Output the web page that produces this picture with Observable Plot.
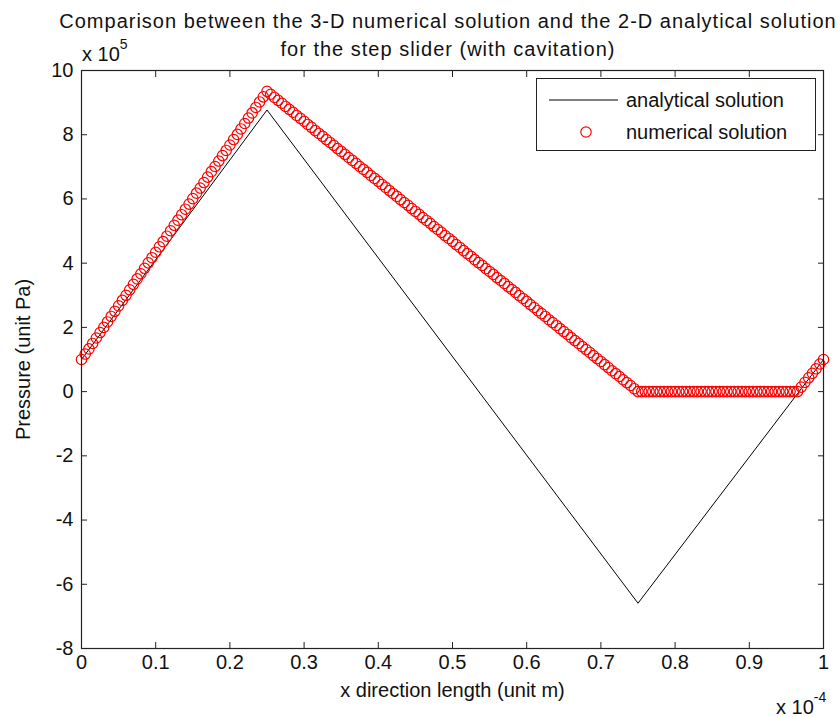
<!DOCTYPE html>
<html>
<head>
<meta charset="utf-8">
<script src="https://cdn.jsdelivr.net/npm/d3@7"></script>
<script src="https://cdn.jsdelivr.net/npm/@observablehq/plot@0.6"></script>
<style>
  body { margin: 0; background: #fff; }
  #wrap { position: relative; width: 840px; height: 717px; font-family: "Liberation Sans", Arial, sans-serif; color: #111; }
  .ann { position: absolute; white-space: nowrap; font-size: 20px; line-height: 1; }
  #title { position: absolute; left: 0; width: 896px; top: 7px; text-align: center; font-size: 20px; line-height: 28px; letter-spacing: 1px; }
  sup { font-size: 14px; position: relative; top: -4px; }
  #legend { position: absolute; left: 536px; top: 78px; width: 278px; height: 71px; border: 1px solid #222; background: #fff; }
</style>
</head>
<body>
<div id="wrap">
  <div id="chart"></div>
  <div id="title">Comparison between the 3-D numerical solution and the 2-D analytical solution<br>for the step slider (with cavitation)</div>
  <div class="ann" style="left:82px; top:41px;">x 10<sup>5</sup></div>
  <div class="ann" style="left:776px; top:694px;">x 10<sup>-4</sup></div>
  <div id="legend">
    <svg width="278" height="71" style="position:absolute;left:0;top:0;font-family:'Liberation Sans', Arial, sans-serif;font-size:20px;">
      <line x1="12" x2="81" y1="21" y2="21" stroke="#000" stroke-width="1"></line>
      <circle cx="49" cy="53" r="5.2" fill="none" stroke="#ff0000" stroke-width="1.2"></circle>
      <text x="89" y="28" fill="#111">analytical solution</text>
      <text x="89" y="60" fill="#111">numerical solution</text>
    </svg>
  </div>
</div>
<script>
// Tick labels (x in units of 1e-4 m, pressure in units of 1e5 Pa)
const xTicks = [0, 0.1, 0.2, 0.3, 0.4, 0.5, 0.6, 0.7, 0.8, 0.9, 1];
const yTicks = [-8, -6, -4, -2, 0, 2, 4, 6, 8, 10];

// Analytical solution (black line)
const anaX = [0, 0.25, 0.75, 1];
const anaY = [1.0, 8.77, -6.59, 1.0];

// Numerical solution (red circles)
const numX = [
  0,0.005,0.01,0.015,0.02,0.025,0.03,0.035,0.04,0.045,0.05,0.055,0.06,0.065,0.07,0.075,0.08,0.085,0.09,0.095,
  0.1,0.105,0.11,0.115,0.12,0.125,0.13,0.135,0.14,0.145,0.15,0.155,0.16,0.165,0.17,0.175,0.18,0.185,0.19,0.195,
  0.2,0.205,0.21,0.215,0.22,0.225,0.23,0.235,0.24,0.245,0.25,0.255,0.26,0.265,0.27,0.275,0.28,0.285,0.29,0.295,
  0.3,0.305,0.31,0.315,0.32,0.325,0.33,0.335,0.34,0.345,0.35,0.355,0.36,0.365,0.37,0.375,0.38,0.385,0.39,0.395,
  0.4,0.405,0.41,0.415,0.42,0.425,0.43,0.435,0.44,0.445,0.45,0.455,0.46,0.465,0.47,0.475,0.48,0.485,0.49,0.495,
  0.5,0.505,0.51,0.515,0.52,0.525,0.53,0.535,0.54,0.545,0.55,0.555,0.56,0.565,0.57,0.575,0.58,0.585,0.59,0.595,
  0.6,0.605,0.61,0.615,0.62,0.625,0.63,0.635,0.64,0.645,0.65,0.655,0.66,0.665,0.67,0.675,0.68,0.685,0.69,0.695,
  0.7,0.705,0.71,0.715,0.72,0.725,0.73,0.735,0.74,0.745,0.75,0.755,0.76,0.765,0.77,0.775,0.78,0.785,0.79,0.795,
  0.8,0.805,0.81,0.815,0.82,0.825,0.83,0.835,0.84,0.845,0.85,0.855,0.86,0.865,0.87,0.875,0.88,0.885,0.89,0.895,
  0.9,0.905,0.91,0.915,0.92,0.925,0.93,0.935,0.94,0.945,0.95,0.955,0.96,0.965,0.97,0.975,0.98,0.985,0.99,0.995,
  1
];
const numY = [
  1.00,1.17,1.33,1.50,1.67,1.84,2.00,2.17,2.34,2.50,2.67,2.84,3.00,3.17,3.34,3.51,3.67,3.84,4.01,4.17,
  4.34,4.51,4.67,4.84,5.01,5.18,5.34,5.51,5.68,5.84,6.01,6.18,6.34,6.51,6.68,6.85,7.01,7.18,7.35,7.51,
  7.68,7.85,8.01,8.18,8.35,8.52,8.68,8.85,9.02,9.18,9.35,9.26,9.16,9.07,8.98,8.88,8.79,8.70,8.60,8.51,
  8.42,8.32,8.23,8.13,8.04,7.95,7.85,7.76,7.67,7.57,7.48,7.39,7.29,7.20,7.11,7.01,6.92,6.83,6.73,6.64,
  6.55,6.45,6.36,6.26,6.17,6.08,5.98,5.89,5.80,5.70,5.61,5.52,5.42,5.33,5.24,5.14,5.05,4.96,4.86,4.77,
  4.68,4.58,4.49,4.39,4.30,4.21,4.11,4.02,3.93,3.83,3.74,3.65,3.55,3.46,3.37,3.27,3.18,3.09,2.99,2.90,
  2.81,2.71,2.62,2.52,2.43,2.34,2.24,2.15,2.06,1.96,1.87,1.78,1.68,1.59,1.50,1.40,1.31,1.22,1.12,1.03,
  0.94,0.84,0.75,0.65,0.56,0.47,0.37,0.28,0.19,0.09,0,0,0,0,0,0,0,0,0,0,
  0,0,0,0,0,0,0,0,0,0,0,0,0,0,0,0,0,0,0,0,
  0,0,0,0,0,0,0,0,0,0,0,0,0,0,0.14,0.29,0.43,0.57,0.71,0.86,
  1.00
];

const analytical = anaX.map((x, i) => ({x, y: anaY[i]}));
const numerical = numX.map((x, i) => ({x, y: numY[i]}));
const fmt = d => String(d);

const chart = Plot.plot({
  width: 840,
  height: 717,
  marginTop: 70,
  marginBottom: 69,
  marginLeft: 81,
  marginRight: 17,
  style: {fontFamily: "'Liberation Sans', Arial, sans-serif", fontSize: "20px", color: "#111", background: "#fff"},
  x: {domain: [0, 1]},
  y: {domain: [-8, 10]},
  marks: [
    Plot.line(analytical, {x: "x", y: "y", stroke: "#000", strokeWidth: 1}),
    Plot.dot(numerical, {x: "x", y: "y", r: 5.2, stroke: "#ff0000", strokeWidth: 1.2, fill: "none"}),
    // inward ticks on all sides
    Plot.axisX(xTicks, {anchor: "bottom", tickSize: -6, text: null, label: null, stroke: "#222"}),
    Plot.axisX(xTicks, {anchor: "top", tickSize: -6, text: null, label: null, stroke: "#222"}),
    Plot.axisY(yTicks, {anchor: "left", tickSize: -6, text: null, label: null, stroke: "#222"}),
    Plot.axisY(yTicks, {anchor: "right", tickSize: -6, text: null, label: null, stroke: "#222"}),
    // tick labels and axis titles
    Plot.axisX(xTicks, {anchor: "bottom", tickSize: 0, tickPadding: 6, tickFormat: fmt,
      label: "x direction length (unit m)", labelAnchor: "center", labelOffset: 48, labelArrow: "none"}),
    Plot.axisY(yTicks, {anchor: "left", tickSize: 0, tickPadding: 8, tickFormat: fmt,
      label: "Pressure (unit Pa)", labelAnchor: "center", labelOffset: 66, labelArrow: "none"}),
    Plot.frame({stroke: "#222", strokeWidth: 1.2})
  ]
});
document.getElementById("chart").appendChild(chart);
</script>
</body>
</html>
